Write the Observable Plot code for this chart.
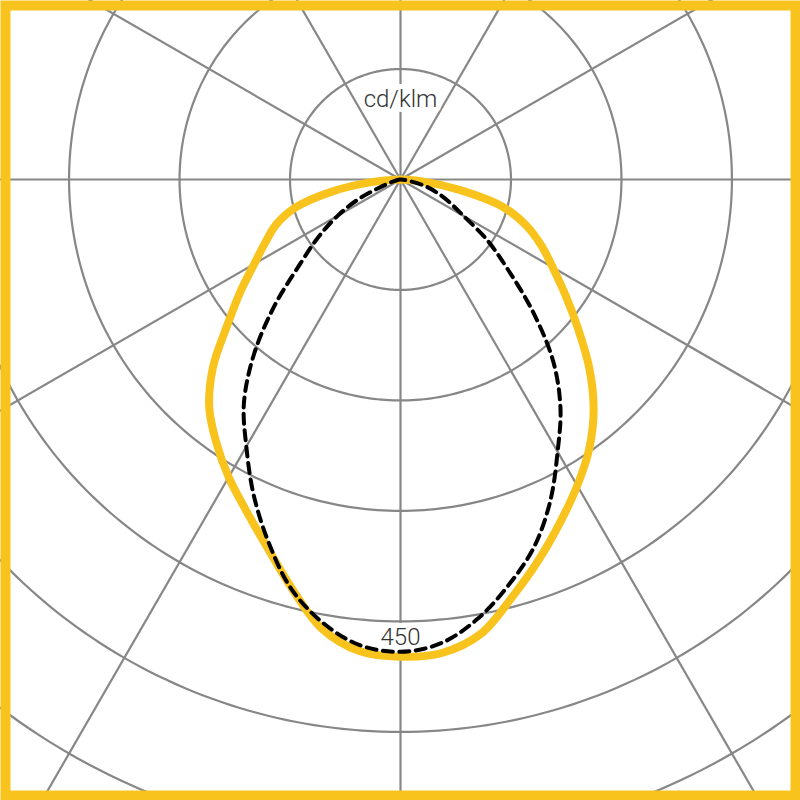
<!DOCTYPE html>
<html>
<head>
<meta charset="utf-8">
<script src="https://cdn.jsdelivr.net/npm/d3@7"></script>
<script src="https://cdn.jsdelivr.net/npm/@observablehq/plot@0.6"></script>
<style>
html, body { margin: 0; padding: 0; background: #fff; overflow: hidden; }
#chart svg { display: block; }
</style>
</head>
<body>
<div id="chart"></div>
<script>
// Gamma angles (degrees from nadir)
const angles = [0, 5, 10, 15, 20, 25, 30, 35, 40, 45, 50, 55, 60, 65, 70, 75, 80, 85, 90];
// Solid (yellow) curve, cd/klm
const yellowLeft  = [486, 482, 464, 430, 398, 372, 350, 327, 303, 270, 230, 199, 172, 152, 135, 111, 71, 28, 0];
const yellowRight = [486, 484, 470, 440, 412, 385, 360, 335, 306, 272, 236, 205, 179, 158, 136, 108, 61, 22, 0];
// Dashed (black) curve, cd/klm
const dashedLeft  = [481, 476, 458, 431, 393, 354, 314, 278, 232, 181, 133, 102, 74, 47, 19, 8, 3, 1, 0];
const dashedRight = [482, 474, 454, 427, 398, 361, 320, 284, 242, 191, 143, 108, 74, 55, 40, 26, 10, 3, 0];
// Grid
const ringValues = [112.5, 225, 337.5, 450, 562.5, 675];
const spokeAngles = [0, 30, 60, 90, 120, 150, 180, 210, 240, 270, 300, 330];
const unitLabel = ["cd/klm"];
const ringLabel = ["450"];

const W = 800, H = 800, CX = 400, CY = 179, K = 0.982; // px per cd/klm
const rad = d => d * Math.PI / 180;

function side(vals, sign) {
  return angles.map((a, i) => ({x: sign * vals[i] * Math.sin(rad(a)), y: -vals[i] * Math.cos(rad(a))}));
}
function curve(left, right) {
  return side(left, -1).reverse().concat(side(right, 1).slice(1));
}
const yellowPts = curve(yellowLeft, yellowRight);
const dashedPts = curve(dashedLeft, dashedRight);

const ringPts = [];
for (const r of ringValues) for (let a = 0; a <= 360; a += 1) ringPts.push({r, x: r * Math.sin(rad(a)), y: r * Math.cos(rad(a))});
const spokes = spokeAngles.map(a => ({x: 1000 * Math.sin(rad(a)), y: -1000 * Math.cos(rad(a))}));

const GRID = "#878787", YEL = "#F9C31E", FONT = "Roboto, 'Liberation Sans', sans-serif";

const chart = Plot.plot({
  width: W, height: H, margin: 0,
  x: {domain: [-CX / K, (W - CX) / K], axis: null},
  y: {domain: [-(H - CY) / K, CY / K], axis: null},
  marks: [
    Plot.line(ringPts, {x: "x", y: "y", z: "r", stroke: GRID, strokeWidth: 2.2, clip: true}),
    Plot.link(spokes, {x1: () => 0, y1: () => 0, x2: "x", y2: "y", stroke: GRID, strokeWidth: 2.2, clip: true}),
    Plot.text(unitLabel, {x: () => 0, y: () => ringValues[0], text: d => d, lineAnchor: "top", dy: 21,
      fontSize: 24, fontWeight: 300, fontFamily: FONT, fill: "#333", stroke: "white", strokeWidth: 10, paintOrder: "stroke", strokeLinejoin: "round"}),
    Plot.text(ringLabel, {x: () => 0, y: d => -(+d), text: d => d, lineAnchor: "top", dy: 7,
      fontSize: 24, fontWeight: 300, fontFamily: FONT, fill: "#333", stroke: "white", strokeWidth: 10, paintOrder: "stroke", strokeLinejoin: "round"}),
    Plot.line(yellowPts, {x: "x", y: "y", stroke: YEL, strokeWidth: 8, curve: "catmull-rom", strokeLinejoin: "round"}),
    Plot.line(dashedPts, {x: "x", y: "y", stroke: "#000", strokeWidth: 4, strokeDasharray: "10,6.5", curve: "catmull-rom"}),
    Plot.frame({stroke: YEL, strokeWidth: 10, inset: 5})
  ]
});
document.getElementById("chart").appendChild(chart);
</script>
</body>
</html>
